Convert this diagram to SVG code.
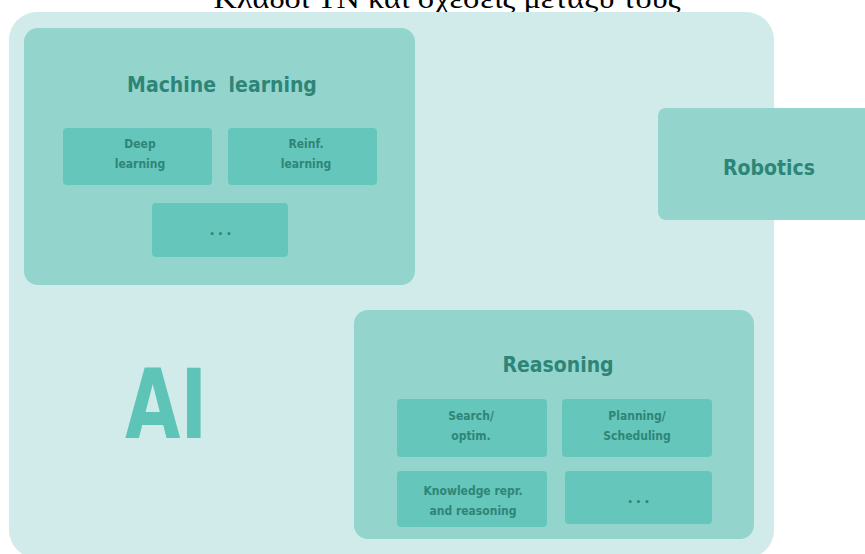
<svg xmlns="http://www.w3.org/2000/svg" width="865" height="554" viewBox="0 0 865 554">
  <style>
    .area { fill: #d1eaea; }
    .group { fill: #93d5cd; }
    .item { fill: #65c6bb; }
    .head { font-family: "DejaVu Sans Condensed", "DejaVu Sans", sans-serif; font-stretch: condensed; font-weight: bold; font-size: 21px; fill: #2e8577; text-anchor: middle; }
    .lbl { font-family: "DejaVu Sans Condensed", "DejaVu Sans", sans-serif; font-stretch: condensed; font-weight: bold; font-size: 12px; fill: #2e8577; text-anchor: middle; }
    .dots { font-family: "DejaVu Sans", sans-serif; font-weight: bold; font-size: 14px; fill: #2e8577; text-anchor: middle; letter-spacing: 3px; }
  </style>
  <rect width="865" height="554" fill="#ffffff"/>

  <!-- title, partly above the top edge -->
  <text x="447" y="8" font-family="Liberation Serif, serif" font-size="28" fill="#000000" text-anchor="middle" textLength="467" lengthAdjust="spacingAndGlyphs">Κλάδοι ΤΝ και σχέσεις μεταξύ τους</text>

  <!-- AI: the enclosing area -->
  <g id="ai">
    <rect class="area" x="9" y="12" width="765" height="546" rx="28"/>
    <text x="166" y="438" font-family="DejaVu Sans Condensed, DejaVu Sans, sans-serif" font-weight="bold" font-size="97" fill="#5ec4b8" text-anchor="middle" textLength="82" lengthAdjust="spacingAndGlyphs">AI</text>
  </g>

  <g id="machine-learning">
    <rect class="group" x="24" y="28" width="391" height="257" rx="14"/>
    <text class="head" x="222" y="92" word-spacing="6">Machine learning</text>
  </g>
  <g id="deep-learning">
    <rect class="item" x="63" y="128" width="149" height="57" rx="4"/>
    <text class="lbl" x="140" y="148">Deep</text>
    <text class="lbl" x="140" y="168">learning</text>
  </g>
  <g id="reinforcement-learning">
    <rect class="item" x="228" y="128" width="149" height="57" rx="4"/>
    <text class="lbl" x="306" y="148">Reinf.</text>
    <text class="lbl" x="306" y="168">learning</text>
  </g>
  <g id="ml-other">
    <rect class="item" x="152" y="203" width="136" height="54" rx="4"/>
    <text class="dots" x="222" y="235">...</text>
  </g>

  <g id="robotics">
    <rect class="group" x="658" y="108" width="220" height="112" rx="8"/>
    <text class="head" x="769" y="175">Robotics</text>
  </g>

  <g id="reasoning">
    <rect class="group" x="354" y="310" width="400" height="229" rx="14"/>
    <text class="head" x="558" y="372">Reasoning</text>
  </g>
  <g id="search">
    <rect class="item" x="397" y="399" width="150" height="58" rx="4"/>
    <text class="lbl" x="471" y="420">Search/</text>
    <text class="lbl" x="471" y="440">optim.</text>
  </g>
  <g id="planning">
    <rect class="item" x="562" y="399" width="150" height="58" rx="4"/>
    <text class="lbl" x="637" y="420">Planning/</text>
    <text class="lbl" x="637" y="440">Scheduling</text>
  </g>
  <g id="knowledge">
    <rect class="item" x="397" y="471" width="150" height="56" rx="4"/>
    <text class="lbl" x="473" y="495">Knowledge repr.</text>
    <text class="lbl" x="473" y="515">and reasoning</text>
  </g>
  <g id="reasoning-other">
    <rect class="item" x="565" y="471" width="147" height="53" rx="4"/>
    <text class="dots" x="640" y="503">...</text>
  </g>

  <g id="connectors"/>
</svg>
